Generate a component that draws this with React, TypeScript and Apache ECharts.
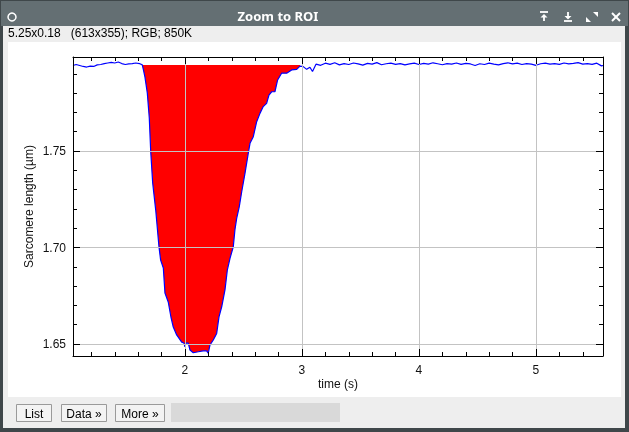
import React, { useEffect, useRef } from "react";
import * as echarts from "echarts";

// ---- data ----
const LEFT_TIME = [1.043, 1.07, 1.1, 1.13, 1.16, 1.19, 1.22, 1.25, 1.28, 1.31, 1.34, 1.37, 1.4, 1.43, 1.46, 1.49, 1.52, 1.55, 1.58, 1.61];
const LEFT_LENGTH = [1.7943, 1.7948, 1.7943, 1.7938, 1.7935, 1.794, 1.7938, 1.7946, 1.7948, 1.7953, 1.7956, 1.7959, 1.7956, 1.7961, 1.7953, 1.7948, 1.7951, 1.7953, 1.7956, 1.7953];

const DIP_TIME = [1.635, 1.645, 1.658, 1.678, 1.695, 1.707, 1.724, 1.75, 1.778, 1.792, 1.815, 1.829, 1.857, 1.88, 1.9, 1.929, 1.972, 1.991, 2.0, 2.009, 2.028, 2.043, 2.071, 2.114, 2.156, 2.185, 2.199, 2.214, 2.242, 2.271, 2.291, 2.314, 2.342, 2.362, 2.385, 2.413, 2.427, 2.442, 2.464, 2.485, 2.513, 2.541, 2.556, 2.584, 2.613, 2.641, 2.669, 2.698, 2.718, 2.741, 2.769, 2.792, 2.826, 2.869, 2.912, 2.955, 2.983, 3.011, 3.04, 3.068];
const DIP_LENGTH = [1.7946, 1.792, 1.7883, 1.7801, 1.7671, 1.75, 1.7334, 1.7194, 1.7003, 1.6935, 1.6894, 1.6764, 1.6718, 1.664, 1.6588, 1.6547, 1.651, 1.6505, 1.6485, 1.6505, 1.6505, 1.6469, 1.6455, 1.646, 1.6465, 1.6465, 1.6453, 1.6495, 1.6521, 1.6555, 1.6641, 1.6693, 1.678, 1.6883, 1.6944, 1.7004, 1.7091, 1.7151, 1.7211, 1.7289, 1.7384, 1.7488, 1.754, 1.7574, 1.7652, 1.7695, 1.773, 1.7747, 1.779, 1.7807, 1.7807, 1.7868, 1.7903, 1.7903, 1.792, 1.7923, 1.794, 1.7937, 1.7923, 1.7934];
const FILL_END_INDEX = 57;

const RIGHT_TIME = [3.09, 3.12, 3.16, 3.2, 3.24, 3.28, 3.32, 3.36, 3.4, 3.44, 3.48, 3.52, 3.56, 3.6, 3.64, 3.68, 3.72, 3.76, 3.8, 3.84, 3.88, 3.92, 3.96, 4.0, 4.04, 4.08, 4.12, 4.16, 4.2, 4.24, 4.28, 4.32, 4.36, 4.4, 4.44, 4.48, 4.52, 4.56, 4.6, 4.64, 4.68, 4.72, 4.76, 4.8, 4.84, 4.88, 4.92, 4.96, 5.0, 5.04, 5.08, 5.12, 5.16, 5.2, 5.24, 5.28, 5.32, 5.36, 5.4, 5.44, 5.48, 5.52, 5.56, 5.573];
const RIGHT_LENGTH = [1.7912, 1.795, 1.7944, 1.7955, 1.7949, 1.7957, 1.7946, 1.7953, 1.7948, 1.7956, 1.7951, 1.7945, 1.7954, 1.795, 1.7958, 1.7947, 1.7952, 1.7955, 1.7949, 1.7953, 1.7946, 1.7951, 1.7955, 1.7948, 1.7954, 1.795, 1.7957, 1.7952, 1.7947, 1.7953, 1.795, 1.7956, 1.7949, 1.7954, 1.7951, 1.7943, 1.7952, 1.7948, 1.7955, 1.795, 1.7946, 1.7953, 1.7957, 1.7951, 1.7955, 1.7948, 1.7953, 1.795, 1.7944, 1.7952, 1.7955, 1.795, 1.7953, 1.7949, 1.7956, 1.7951, 1.7954, 1.7958, 1.795, 1.7953, 1.7949, 1.7955, 1.7941, 1.7943];

const FILL_BASELINE = 1.7946;
const X_MIN = 1.043;
const X_MAX = 5.573;
const Y_MIN = 1.6438;
const Y_MAX = 1.7987;
const X_GRID = [2, 3, 4, 5];
const Y_GRID = [1.65, 1.7, 1.75];

const TITLE = "Zoom to ROI";
const INFO = "5.25x0.18\u00a0\u00a0 (613x355); RGB; 850K";
const X_NAME = "time (s)";
const Y_NAME = "Sarcomere length (µm)";
const BUTTONS = ["List", "Data »", "More »"];

const FONT = "'Liberation Sans', Arial, sans-serif";

function zip(t: number[], v: number[]) {
  return t.map((x, i) => [x, v[i]]);
}

export default function App() {
  const ref = useRef<HTMLDivElement>(null);
  useEffect(() => {
    if (!ref.current) return;
    const chart = echarts.init(ref.current, undefined, { renderer: "svg" });
    const trace = [
      ...zip(LEFT_TIME, LEFT_LENGTH),
      ...zip(DIP_TIME, DIP_LENGTH),
      ...zip(RIGHT_TIME, RIGHT_LENGTH),
    ];
    const fill = zip(DIP_TIME, DIP_LENGTH).slice(0, FILL_END_INDEX);

    const axisCommon = (pos: string, showLabel: boolean) => ({
      type: "value",
      position: pos,
      z: 6,
      axisLine: { show: true, onZero: false, lineStyle: { color: "#000", width: 1 } },
      axisTick: { show: true, inside: true, length: 7, lineStyle: { color: "#000", width: 1 } },
      minorTick: { show: true, splitNumber: 5, length: 4, lineStyle: { color: "#000", width: 1 } },
      splitLine: { show: false },
      axisLabel: {
        show: showLabel,
        margin: 7,
        color: "#111",
        fontSize: 12,
        fontFamily: FONT,
        showMinLabel: false,
        showMaxLabel: false,
      },
    });

    const btnX = [16, 61, 115];
    const btnW = [35, 45, 49];
    const buttonEls: any[] = [];
    BUTTONS.forEach((b, i) => {
      buttonEls.push({
        type: "rect",
        shape: { x: btnX[i] + 0.5, y: 404.5, width: btnW[i], height: 17 },
        style: { fill: "#f3f3f3", stroke: "#9a9a9a", lineWidth: 1 },
      });
      buttonEls.push({
        type: "text",
        x: btnX[i] + btnW[i] / 2 + 0.5,
        y: 413.5,
        style: { text: b, fill: "#000", font: `12px ${FONT}`, textAlign: "center", textVerticalAlign: "middle" },
      });
    });

    const option: any = {
      animation: false,
      grid: { left: 73, top: 57, right: 26, bottom: 76, containLabel: false },
      xAxis: [
        {
          ...axisCommon("bottom", true),
          min: X_MIN,
          max: X_MAX,
          splitNumber: 5,
          axisLabel: { ...axisCommon("bottom", true).axisLabel, margin: 8, formatter: (v: number) => String(Math.round(v)) },
          name: X_NAME,
          nameLocation: "middle",
          nameGap: 22,
          nameMoveOverlap: false,
          nameTextStyle: { color: "#111", fontSize: 12, fontFamily: FONT },
        },
        { ...axisCommon("top", false), min: X_MIN, max: X_MAX, splitNumber: 5 },
      ],
      yAxis: [
        {
          ...axisCommon("left", true),
          min: Y_MIN,
          max: Y_MAX,
          splitNumber: 3,
          axisLabel: { ...axisCommon("left", true).axisLabel, margin: 7, formatter: (v: number) => v.toFixed(2) },
          name: Y_NAME,
          nameLocation: "middle",
          nameGap: 38,
          nameMoveOverlap: false,
          nameTextStyle: { color: "#111", fontSize: 12, fontFamily: FONT },
        },
        { ...axisCommon("right", false), min: Y_MIN, max: Y_MAX, splitNumber: 3 },
      ],
      graphic: {
        elements: [
          { type: "rect", z: -10, shape: { x: 0, y: 0, width: 629, height: 432 }, style: { fill: "#3f474a" } },
          { type: "rect", z: -9, shape: { x: 1, y: 1, width: 627, height: 25 }, style: { fill: "#646f73" } },
          { type: "rect", z: -9, shape: { x: 3, y: 26, width: 622, height: 402 }, style: { fill: "#eeeeee" } },
          { type: "rect", z: -8, shape: { x: 8, y: 42, width: 613, height: 355 }, style: { fill: "#ffffff" } },
          { type: "circle", z: 1, shape: { cx: 12, cy: 17, r: 4 }, style: { fill: "none", stroke: "#ffffff", lineWidth: 1.5 } },
          {
            type: "text", z: 1, x: 278, y: 16,
            style: { text: TITLE, fill: "#ffffff", font: "bold 13px 'Noto Sans', sans-serif", textAlign: "center", textVerticalAlign: "middle" },
          },
          // title bar icons
          { type: "line", z: 1, shape: { x1: 540, y1: 12, x2: 548, y2: 12 }, style: { stroke: "#fff", lineWidth: 1.8 } },
          { type: "polygon", z: 1, shape: { points: [[540.5, 17.5], [544, 14], [547.5, 17.5]] }, style: { fill: "#fff" } },
          { type: "line", z: 1, shape: { x1: 544, y1: 16, x2: 544, y2: 21 }, style: { stroke: "#fff", lineWidth: 1.8 } },
          { type: "line", z: 1, shape: { x1: 568, y1: 12, x2: 568, y2: 17 }, style: { stroke: "#fff", lineWidth: 1.8 } },
          { type: "polygon", z: 1, shape: { points: [[564.5, 16], [568, 19.5], [571.5, 16]] }, style: { fill: "#fff" } },
          { type: "line", z: 1, shape: { x1: 564, y1: 21, x2: 572, y2: 21 }, style: { stroke: "#fff", lineWidth: 1.8 } },
          { type: "polygon", z: 1, shape: { points: [[593, 12], [598, 12], [598, 17]] }, style: { fill: "#fff" } },
          { type: "polygon", z: 1, shape: { points: [[586, 17], [586, 22], [591, 22]] }, style: { fill: "#fff" } },
          { type: "line", z: 1, shape: { x1: 612, y1: 13, x2: 620, y2: 21 }, style: { stroke: "#fff", lineWidth: 2 } },
          { type: "line", z: 1, shape: { x1: 620, y1: 13, x2: 612, y2: 21 }, style: { stroke: "#fff", lineWidth: 2 } },
          {
            type: "text", z: 1, x: 8, y: 33,
            style: { text: INFO, fill: "#000", font: `12px ${FONT}`, textAlign: "left", textVerticalAlign: "middle" },
          },
          ...buttonEls,
          { type: "rect", z: 1, shape: { x: 171, y: 403, width: 169, height: 19 }, style: { fill: "#d9d9d9" } },
        ],
      },
      series: [
        {
          type: "line",
          name: "fill",
          data: fill,
          symbol: "none",
          silent: true,
          z: 2,
          lineStyle: { width: 0, opacity: 0 },
          areaStyle: { color: "#ff0000", opacity: 1, origin: FILL_BASELINE },
        },
        {
          type: "line",
          name: "grid",
          data: [],
          symbol: "none",
          silent: true,
          z: 3,
          markLine: {
            silent: true,
            symbol: ["none", "none"],
            label: { show: false },
            emphasis: { disabled: true },
            lineStyle: { color: "#c3c3c3", width: 1, type: "solid" },
            data: [...X_GRID.map((v) => ({ xAxis: v })), ...Y_GRID.map((v) => ({ yAxis: v }))],
          },
        },
        {
          type: "line",
          name: "trace",
          data: trace,
          symbol: "none",
          silent: true,
          z: 4,
          lineStyle: { color: "#0000ff", width: 1.2 },
        },
      ],
    };
    chart.setOption(option);
    return () => chart.dispose();
  }, []);
  return <div ref={ref} style={{ position: "fixed", left: 0, top: 0, width: 629, height: 432 }} />;
}
